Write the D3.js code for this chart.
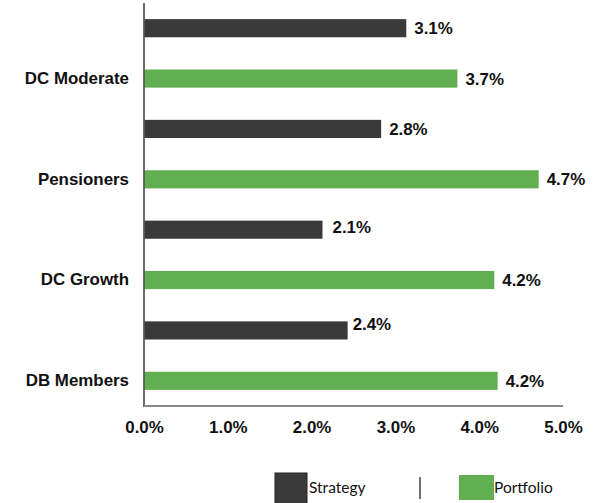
<!DOCTYPE html>
<html>
<head>
<meta charset="utf-8">
<script src="https://cdn.jsdelivr.net/npm/d3@7"></script>
<style>
  html, body { margin: 0; padding: 0; background: #ffffff; }
  svg { display: block; }
</style>
</head>
<body>
<div id="chart"></div>
<script>
// ---- data ----
const categories = ["DC Moderate", "Pensioners", "DC Growth", "DB Members"];
const seriesNames = ["Strategy", "Portfolio"];
const strategyValues = [3.13, 2.83, 2.13, 2.43];
const portfolioValues = [3.74, 4.71, 4.18, 4.22];
const strategyLabels = ["3.1%", "2.8%", "2.1%", "2.4%"];
const portfolioLabels = ["3.7%", "4.7%", "4.2%", "4.2%"];
const xTicks = [0, 1, 2, 3, 4, 5];
const xTickLabels = ["0.0%", "1.0%", "2.0%", "3.0%", "4.0%", "5.0%"];

// ---- styles ----
const W = 604, H = 503;
const colors = { Strategy: "#3a3a3a", Portfolio: "#62af52" };
const boldFont = "Liberation Sans, Arial, sans-serif";
const legendFont = "Lato, 'Open Sans', sans-serif";
const boldSize = "16.9px";
// manual label nudges (like the original's hand-placed labels), keyed by category/series
const labelNudge = { "DC Growth|Strategy": [2, -3], "DB Members|Strategy": [-3, -7] };

const rows = [];
categories.forEach((c, i) => {
  rows.push({ cat: c, series: "Strategy", value: strategyValues[i], label: strategyLabels[i] });
  rows.push({ cat: c, series: "Portfolio", value: portfolioValues[i], label: portfolioLabels[i] });
});

const svg = d3.select("#chart").append("svg").attr("width", W).attr("height", H);

const x = d3.scaleLinear().domain([0, 5]).range([144, 563]);
const y0 = d3.scaleBand().domain(categories).range([3, 406]).padding(0);
const y1 = d3.scaleBand().domain(seriesNames).range([0, y0.bandwidth()])
  .paddingInner(0.64).paddingOuter(0.32);

// bars
svg.append("g").selectAll("rect").data(rows).join("rect")
  .attr("x", x(0) + 0.5)
  .attr("y", d => y0(d.cat) + y1(d.series))
  .attr("width", d => x(d.value) - x(0) - 0.5)
  .attr("height", y1.bandwidth())
  .attr("fill", d => colors[d.series]);

// value labels
svg.append("g").selectAll("text").data(rows).join("text")
  .attr("x", d => x(d.value) + 8 + ((labelNudge[d.cat + "|" + d.series] || [0, 0])[0]))
  .attr("y", d => y0(d.cat) + y1(d.series) + y1.bandwidth() / 2 + ((labelNudge[d.cat + "|" + d.series] || [0, 0])[1]))
  .attr("dy", "0.36em")
  .attr("font-family", boldFont)
  .attr("font-weight", "bold")
  .attr("font-size", boldSize)
  .attr("fill", "#111")
  .text(d => d.label);

// y axis (category labels aligned with Portfolio bar)
const yAxis = d3.axisLeft(y0).tickSize(0).tickPadding(15);
const gy = svg.append("g").attr("transform", `translate(${x(0)},0)`).call(yAxis);
gy.select(".domain").remove();
gy.selectAll(".tick").attr("transform", d => `translate(0,${y0(d) + y1("Portfolio") + y1.bandwidth() / 2})`);
gy.selectAll(".tick text")
  .attr("font-family", boldFont)
  .attr("font-weight", "bold")
  .attr("font-size", boldSize)
  .attr("fill", "#111");
svg.append("line")
  .attr("x1", x(0)).attr("x2", x(0))
  .attr("y1", 3).attr("y2", 407)
  .attr("stroke", "#3a3a3a").attr("stroke-width", 1.5);

// x axis
const xAxis = d3.axisBottom(x).tickValues(xTicks).tickSize(0).tickPadding(15)
  .tickFormat((d, i) => xTickLabels[i]);
const gx = svg.append("g").attr("transform", `translate(0,406)`).call(xAxis);
gx.select(".domain").remove();
gx.selectAll(".tick text")
  .attr("font-family", boldFont)
  .attr("font-weight", "bold")
  .attr("font-size", boldSize)
  .attr("fill", "#111");
svg.append("line")
  .attr("x1", x(0)).attr("x2", x(5))
  .attr("y1", 406).attr("y2", 406)
  .attr("stroke", "#888").attr("stroke-width", 2);

// legend
const legend = svg.append("g");
const legendItems = [
  { name: "Strategy", sx: 275, sy: 473, sw: 32, sh: 32, tx: 309 },
  { name: "Portfolio", sx: 459, sy: 475, sw: 35, sh: 25, tx: 494 }
];
legendItems.forEach(it => {
  legend.append("rect")
    .attr("x", it.sx).attr("y", it.sy).attr("width", it.sw).attr("height", it.sh)
    .attr("fill", colors[it.name])
    .attr("stroke", it.name === "Strategy" ? "#222" : "none")
    .attr("stroke-width", 1);
  legend.append("text")
    .attr("x", it.tx).attr("y", 493)
    .attr("font-family", legendFont)
    .attr("font-size", "15.5px")
    .attr("fill", "#111")
    .text(it.name);
});
legend.append("line")
  .attr("x1", 420).attr("x2", 420).attr("y1", 477).attr("y2", 499)
  .attr("stroke", "#111").attr("stroke-width", 1.2);
</script>
</body>
</html>
